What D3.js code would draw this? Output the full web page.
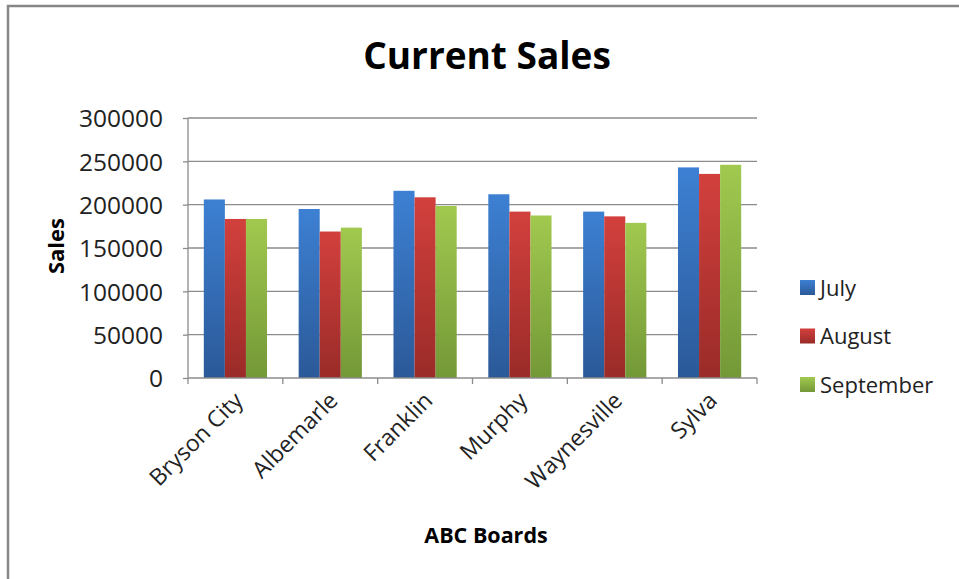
<!DOCTYPE html>
<html>
<head>
<meta charset="utf-8">
<script src="https://cdn.jsdelivr.net/npm/d3@7"></script>
<style>
  body { margin: 0; background: #fff; }
  svg { display: block; font-family: "Open Sans", Lato, sans-serif; }
</style>
</head>
<body>
<svg id="chart" width="959" height="579"></svg>
<script>
// data
var boards = ["Bryson City", "Albemarle", "Franklin", "Murphy", "Waynesville", "Sylva"]
var months = ["July", "August", "September"]
var july = [206000, 195000, 216000, 212000, 192000, 243000]
var august = [183500, 169000, 208500, 192000, 186500, 235500]
var september = [183500, 173500, 198500, 187500, 179000, 246000]
var yTicks = [0, 50000, 100000, 150000, 200000, 250000, 300000]

var series = [july, august, september]
var colors = [
  { top: "#3d80d3", bottom: "#2b5998" },
  { top: "#d2403d", bottom: "#9a2b28" },
  { top: "#a1c94f", bottom: "#739837" }
]

var width = 959, height = 579
var margin = { left: 188, top: 118, right: 202, bottom: 201 }
var plotW = width - margin.left - margin.right
var plotH = height - margin.top - margin.bottom

var svg = d3.select("#chart")

// outer frame (only top and left edges show in the picture)
svg.append("path")
  .attr("d", "M8," + height + "V6H" + width)
  .attr("fill", "none")
  .attr("stroke", "#878787")
  .attr("stroke-width", 2.5)

// gradients
var defs = svg.append("defs")
colors.forEach(function(c, i) {
  var g = defs.append("linearGradient")
    .attr("id", "grad" + i)
    .attr("x1", 0).attr("y1", 0).attr("x2", 0).attr("y2", 1)
  g.append("stop").attr("offset", "0%").attr("stop-color", c.top)
  g.append("stop").attr("offset", "100%").attr("stop-color", c.bottom)
})

var x0 = d3.scaleBand()
  .domain(boards)
  .range([0, plotW])
  .paddingInner(1 / 3)
  .paddingOuter(1 / 6)

var x1 = d3.scaleBand()
  .domain(d3.range(months.length))
  .range([0, x0.bandwidth()])

var y = d3.scaleLinear()
  .domain([0, 300000])
  .range([plotH, 0])

var plot = svg.append("g")
  .attr("transform", "translate(" + margin.left + "," + margin.top + ")")

// gridlines
plot.append("g")
  .selectAll("line")
  .data(yTicks.slice(1))
  .enter()
  .append("line")
  .attr("x1", 0)
  .attr("x2", plotW)
  .attr("y1", d => y(d))
  .attr("y2", d => y(d))
  .attr("stroke", "#8c8c8c")
  .attr("stroke-width", 1.3)

// bars
var groups = plot.append("g")
  .selectAll("g")
  .data(boards)
  .enter()
  .append("g")
  .attr("transform", d => "translate(" + x0(d) + ",0)")

groups.selectAll("rect")
  .data((d, i) => series.map((s, k) => ({ k: k, v: s[i] })))
  .enter()
  .append("rect")
  .attr("x", d => x1(d.k))
  .attr("y", d => y(d.v))
  .attr("width", x1.bandwidth())
  .attr("height", d => plotH - y(d.v))
  .attr("fill", d => "url(#grad" + d.k + ")")

// y axis
var yAxis = plot.append("g")
  .call(d3.axisLeft(y).tickValues(yTicks).tickSize(5).tickPadding(20).tickFormat(d3.format("d")))
yAxis.select(".domain").attr("stroke", "#8c8c8c").attr("stroke-width", 1.3).attr("d", "M0,0V" + plotH)
yAxis.selectAll(".tick line").attr("stroke", "#8c8c8c").attr("stroke-width", 1.3)
yAxis.selectAll(".tick text")
  .attr("font-family", "'Open Sans', sans-serif")
  .attr("font-size", 24.5)
  .attr("fill", "#222")
  .attr("dy", "0.36em")

// x axis
var xAxis = plot.append("g")
  .attr("transform", "translate(0," + plotH + ")")
xAxis.append("line")
  .attr("x1", 0).attr("x2", plotW)
  .attr("stroke", "#8c8c8c").attr("stroke-width", 1.3)
xAxis.selectAll(".cat-tick")
  .data(d3.range(boards.length + 1))
  .enter()
  .append("line")
  .attr("class", "cat-tick")
  .attr("x1", d => d * x0.step())
  .attr("x2", d => d * x0.step())
  .attr("y1", 0).attr("y2", 6)
  .attr("stroke", "#8c8c8c").attr("stroke-width", 1.3)
xAxis.selectAll("text")
  .data(boards)
  .enter()
  .append("text")
  .attr("text-anchor", "end")
  .attr("transform", d => "translate(" + (x0(d) + x0.bandwidth() / 2 + 9) + ",24) rotate(-45)")
  .attr("font-size", 23)
  .attr("fill", "#222")
  .text(d => d)

// titles
svg.append("text")
  .attr("x", 487).attr("y", 69)
  .attr("text-anchor", "middle")
  .attr("font-size", 37)
  .attr("font-weight", "bold")
  .attr("fill", "#000")
  .text("Current Sales")

svg.append("text")
  .attr("x", 486).attr("y", 543)
  .attr("text-anchor", "middle")
  .attr("font-size", 21.5)
  .attr("font-weight", "bold")
  .attr("fill", "#000")
  .text("ABC Boards")

svg.append("text")
  .attr("transform", "translate(64,246) rotate(-90)")
  .attr("text-anchor", "middle")
  .attr("font-size", 22)
  .attr("font-weight", "bold")
  .attr("fill", "#000")
  .text("Sales")

// legend
var legend = svg.append("g")
  .selectAll("g")
  .data(months)
  .enter()
  .append("g")
  .attr("transform", (d, i) => "translate(800," + (288 + i * 48.5) + ")")
legend.append("rect")
  .attr("x", 0).attr("y", -8)
  .attr("width", 15).attr("height", 15)
  .attr("fill", (d, i) => "url(#grad" + i + ")")
legend.append("text")
  .attr("x", 20).attr("y", 0)
  .attr("dy", "0.36em")
  .attr("font-size", 22)
  .attr("fill", "#222")
  .text(d => d)
</script>
</body>
</html>
